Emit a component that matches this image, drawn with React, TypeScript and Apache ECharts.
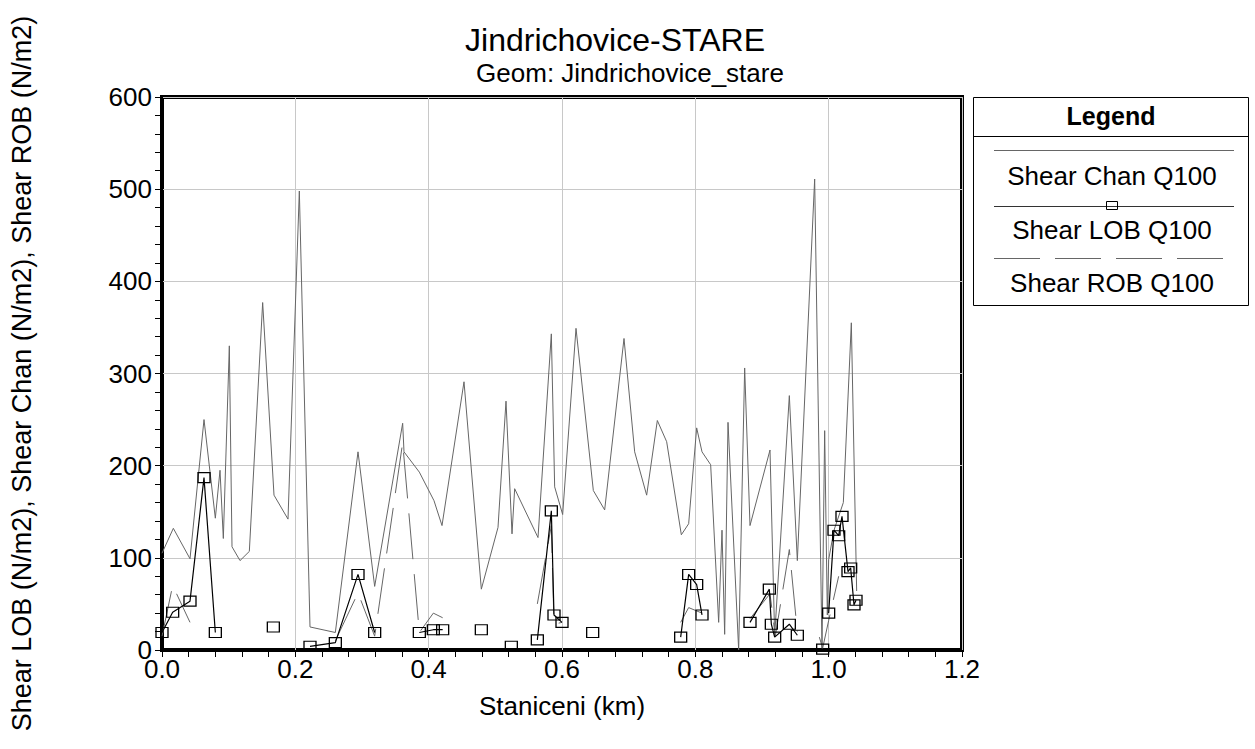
import React, { useEffect, useRef } from "react";
import * as echarts from "echarts";

const FONT = "'Liberation Sans', Arial, sans-serif";

const titleText = "Jindrichovice-STARE";
const subtitleText = "Geom: Jindrichovice_stare";
const xAxisName = "Staniceni (km)";
const yAxisName = "Shear LOB (N/m2), Shear Chan (N/m2), Shear ROB (N/m2)";
const legendTitle = "Legend";
const seriesNames = ["Shear Chan Q100", "Shear LOB Q100", "Shear ROB Q100"];

const chanStation = [0.000, 0.017, 0.042, 0.063, 0.080, 0.087, 0.092, 0.101, 0.105, 0.117, 0.131, 0.151, 0.168, 0.189, 0.206, 0.222, 0.260, 0.294, 0.319, 0.361, 0.363, 0.386, 0.408, 0.420, 0.453, 0.479, 0.504, 0.516, 0.525, 0.529, 0.564, 0.584, 0.589, 0.601, 0.621, 0.647, 0.664, 0.693, 0.709, 0.727, 0.743, 0.757, 0.779, 0.790, 0.802, 0.810, 0.823, 0.835, 0.840, 0.844, 0.849, 0.865, 0.874, 0.882, 0.912, 0.919, 0.941, 0.953, 0.979, 0.990, 0.994, 0.998, 1.000, 1.008, 1.022, 1.034, 1.042];
const chanShear = [105, 132, 99, 250, 143, 195, 121, 330, 112, 97, 107, 377, 168, 142, 498, 25, 19, 215, 69, 246, 215, 193, 162, 135, 291, 66, 133, 270, 126, 175, 122, 343, 177, 147, 349, 173, 152, 338, 215, 168, 249, 226, 125, 137, 241, 215, 201, 30, 130, 17, 247, 0, 306, 135, 217, 15, 276, 97, 511, 2, 238, 38, 98, 130, 160, 355, 64];

const lobStation = [0.000, 0.016, 0.042, 0.063, 0.080, null, 0.167, null, 0.222, 0.260, 0.294, 0.319, null, 0.386, 0.407, 0.421, null, 0.479, null, 0.524, null, 0.563, 0.584, 0.588, 0.600, null, 0.646, null, 0.778, 0.790, 0.802, 0.810, null, 0.882, 0.911, 0.914, 0.919, 0.941, 0.953, null, 0.991, null, 1.000, 1.008, 1.015, 1.020, 1.029, 1.033, 1.038, 1.041];
const lobShear = [19, 41, 53, 187, 19, null, 25, null, 4, 8, 82, 19, null, 19, 22, 22, null, 22, null, 4, null, 11, 151, 38, 30, null, 19, null, 14, 82, 71, 38, null, 30, 66, 28, 14, 28, 16, null, 1, null, 40, 130, 124, 145, 85, 89, 49, 54];

const robStation = [0.000, 0.016, 0.042, null, 0.260, 0.294, 0.319, 0.361, 0.386, 0.407, 0.421, null, 0.563, 0.584, 0.588, 0.600, null, 0.778, 0.790, 0.810, null, 0.882, 0.912, 0.920, 0.941, 0.953, null, 0.986, 0.991, 1.000, 1.015];
const robShear = [15, 70, 30, null, 10, 62, 15, 225, 19, 40, 35, null, 50, 135, 28, 30, null, 30, 46, 40, null, 34, 61, 15, 109, 20, null, 14, 2, 32, 80];

const xTicks = { min: 0, max: 1.2, interval: 0.2 };
const yTicks = { min: 0, max: 600, interval: 100 };

function pairs(xs: (number | null)[], ys: (number | null)[]) {
  return xs.map((x, i) => [x === null ? NaN : x, ys[i] === null ? NaN : ys[i]]);
}

export default function App() {
  const ref = useRef<HTMLDivElement>(null);
  useEffect(() => {
    document.body.style.margin = "0";
    const chart = echarts.init(ref.current as HTMLDivElement, null, { renderer: "svg" });
    const axisCommon = {
      axisLine: { show: true, lineStyle: { color: "#000", width: 1 } },
      axisTick: { show: true, length: 7, lineStyle: { color: "#000" } },
      minorTick: { show: true, splitNumber: 5, length: 7, lineStyle: { color: "#000" } },
      splitLine: { show: true, lineStyle: { color: "#c8c8c8", width: 1 } },
    };
    const gL = 158, gR = 962, gT = 97, gB = 650;
    const centered = (text: string, x: number, y: number, size: number, bold = false) => ({
      type: "text", x, y,
      style: { text, fontSize: size, fontWeight: bold ? "bold" : "normal", fontFamily: FONT, fill: "#000", align: "center", verticalAlign: "middle" },
    });
    chart.setOption({
      animation: false,
      backgroundColor: "#fff",
      grid: {
        left: gL, right: 1255 - gR, top: gT, bottom: 749 - gB,
        show: true, borderColor: "#000", borderWidth: 4, backgroundColor: "transparent",
      },
      xAxis: {
        type: "value", ...xTicks, ...axisCommon,
        axisLabel: { formatter: (v: number) => v.toFixed(1), fontSize: 26, color: "#000", margin: 6, fontFamily: FONT },
        name: xAxisName, nameLocation: "middle", nameGap: 43,
        nameTextStyle: { fontSize: 26, color: "#000", fontFamily: FONT },
      },
      yAxis: {
        type: "value", ...yTicks, ...axisCommon,
        axisLabel: { fontSize: 26, color: "#000", margin: 10, fontFamily: FONT },
        name: yAxisName, nameLocation: "middle", nameRotate: 90, nameGap: 127,
        nameTextStyle: { fontSize: 27, color: "#000", fontFamily: FONT },
      },
      series: [
        {
          name: seriesNames[0], type: "line", data: pairs(chanStation, chanShear),
          showSymbol: false, symbol: "none", lineStyle: { color: "#666", width: 1 }, z: 2,
        },
        {
          name: seriesNames[2], type: "line", data: pairs(robStation, robShear),
          showSymbol: false, symbol: "none", lineStyle: { color: "#666", width: 1, type: [46, 15] }, z: 3,
        },
        {
          name: seriesNames[1], type: "line", data: pairs(lobStation, lobShear),
          symbol: "rect", symbolSize: [12, 10], showSymbol: true,
          itemStyle: { color: "rgba(0,0,0,0)", borderColor: "#000", borderWidth: 1.2 },
          lineStyle: { color: "#000", width: 1.2 }, z: 4,
        },
      ],
      graphic: [
        centered(titleText, 615, 40, 32),
        centered(subtitleText, 630, 73, 26),
        { type: "rect", shape: { x: 973.5, y: 97.5, width: 275, height: 208 }, style: { fill: "#fff", stroke: "#000", lineWidth: 1 } },
        centered(legendTitle, 1111, 116, 25, true),
        { type: "line", shape: { x1: 973.5, y1: 136.5, x2: 1248.5, y2: 136.5 }, style: { stroke: "#000", lineWidth: 1 } },
        { type: "line", shape: { x1: 994, y1: 150.5, x2: 1234, y2: 150.5 }, style: { stroke: "#666", lineWidth: 1 } },
        centered(seriesNames[0], 1112, 176, 26),
        { type: "line", shape: { x1: 994, y1: 206.5, x2: 1234, y2: 206.5 }, style: { stroke: "#333", lineWidth: 1 } },
        { type: "rect", shape: { x: 1106.5, y: 201.5, width: 11, height: 8 }, style: { fill: "none", stroke: "#000", lineWidth: 1 } },
        centered(seriesNames[1], 1112, 230, 26),
        { type: "line", shape: { x1: 994, y1: 258.5, x2: 1234, y2: 258.5 }, style: { stroke: "#666", lineWidth: 1, lineDash: [46, 15] } },
        centered(seriesNames[2], 1112, 283, 26),
      ],
    });
    return () => chart.dispose();
  }, []);
  return <div ref={ref} style={{ width: 1255, height: 749 }} />;
}
